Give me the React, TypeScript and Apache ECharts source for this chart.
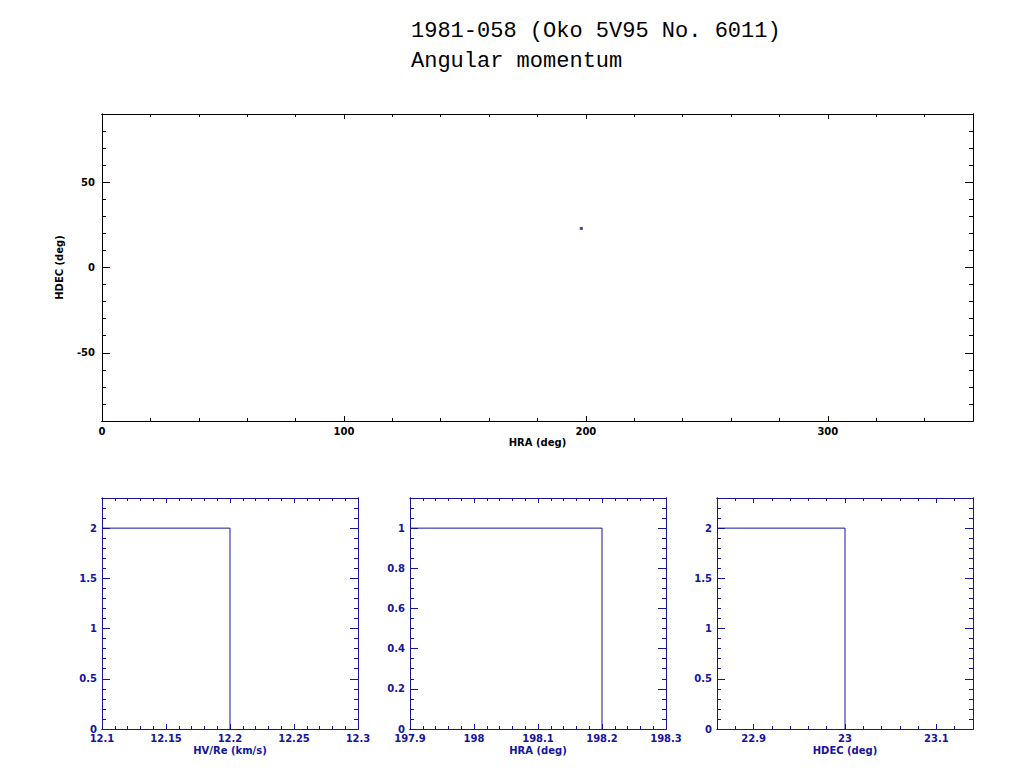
import React, { useEffect, useRef } from "react";
import * as echarts from "echarts";

// ---------- data ----------
const TITLE_LINE_1 = "1981-058 (Oko 5V95 No. 6011)";
const TITLE_LINE_2 = "Angular momentum";

// sky position (HRA, HDEC) of the angular momentum vector
const skyPoints: number[][] = [[198.1, 22.9]];
const skyXTicks = [0, 100, 200, 300];
const skyYTicks = [-50, 0, 50];

// histogram of HV/Re
const hvEdges = [12.1, 12.2];
const hvCounts = [2];
const hvXTicks = [12.1, 12.15, 12.2, 12.25, 12.3];
const hvYTicks = [0, 0.5, 1, 1.5, 2];

// histogram of HRA
const hraEdges = [197.9, 198.2];
const hraCounts = [1];
const hraXTicks = [197.9, 198, 198.1, 198.2, 198.3];
const hraYTicks = [0, 0.2, 0.4, 0.6, 0.8, 1];

// histogram of HDEC
const decEdges = [22.86, 23.0];
const decCounts = [2];
const decXTicks = [22.9, 23, 23.1];
const decYTicks = [0, 0.5, 1, 1.5, 2];

// ---------- helpers ----------
const BLUE = "#14149c";
const BLACK = "#000000";
const FONT = "DejaVu Sans";

function minorValues(min: number, max: number, step: number): number[] {
  const out: number[] = [];
  const n0 = Math.ceil(min / step - 1e-9);
  const n1 = Math.floor(max / step + 1e-9);
  for (let k = n0; k <= n1; k++) out.push(+(k * step).toFixed(6));
  return out;
}

function stepOutline(edges: number[], counts: number[]): number[][] {
  const pts: number[][] = [];
  for (let i = 0; i < counts.length; i++) {
    pts.push([edges[i], counts[i]]);
    pts.push([edges[i + 1], counts[i]]);
  }
  pts.push([edges[edges.length - 1], 0]);
  return pts;
}

function axis(
  gridIndex: number,
  position: string,
  min: number,
  max: number,
  ticks: number[],
  tickLen: number,
  color: string,
  label?: { values: number[]; margin: number; lineHeight: number },
  name?: { text: string; gap: number; rotate?: number }
) {
  const a: any = {
    type: "value",
    gridIndex,
    position,
    min,
    max,
    axisLine: { show: true, onZero: false, lineStyle: { color, width: 1 } },
    axisTick: {
      show: true,
      inside: true,
      length: tickLen,
      customValues: ticks,
      lineStyle: { color, width: 1 },
    },
    axisLabel: label
      ? {
          show: true,
          customValues: label.values,
          formatter: (v: number) => String(+v.toFixed(6)),
          color,
          fontSize: 10,
          lineHeight: label.lineHeight,
          fontWeight: "bold",
          fontFamily: FONT,
          margin: label.margin,
          showMinLabel: true,
          showMaxLabel: true,
          hideOverlap: false,
        }
      : { show: false },
    splitLine: { show: false },
    minorTick: { show: false },
  };
  if (name) {
    a.name = name.text;
    a.nameLocation = "middle";
    a.nameGap = name.gap;
    if (name.rotate !== undefined) a.nameRotate = name.rotate;
    a.nameTextStyle = { color, fontSize: 10, fontWeight: "bold", fontFamily: FONT };
  }
  return a;
}

type Panel = {
  grid: number;
  xr: [number, number];
  yr: [number, number];
  xMajor: number[];
  xMinorStep: number;
  yMajor: number[];
  yMinorStep: number;
  color: string;
  xName: string;
  yName?: string;
  xLabelMargin: number;
  yLabelMargin: number;
  xNameGap: number;
  yNameGap?: number;
  xLen: [number, number];
  yLen: [number, number];
};

function buildPanel(p: Panel) {
  const xMin = minorValues(p.xr[0], p.xr[1], p.xMinorStep);
  const yMin = minorValues(p.yr[0], p.yr[1], p.yMinorStep);
  const xAxes = [
    axis(p.grid, "bottom", p.xr[0], p.xr[1], p.xMajor, p.xLen[0], p.color,
      { values: p.xMajor, margin: p.xLabelMargin, lineHeight: 10 }, { text: p.xName, gap: p.xNameGap }),
    axis(p.grid, "bottom", p.xr[0], p.xr[1], xMin, p.xLen[1], p.color),
    axis(p.grid, "top", p.xr[0], p.xr[1], p.xMajor, p.xLen[0], p.color),
    axis(p.grid, "top", p.xr[0], p.xr[1], xMin, p.xLen[1], p.color),
  ];
  const yAxes = [
    axis(p.grid, "left", p.yr[0], p.yr[1], p.yMajor, p.yLen[0], p.color,
      { values: p.yMajor, margin: p.yLabelMargin, lineHeight: 8 },
      p.yName ? { text: p.yName, gap: p.yNameGap || 40 } : undefined),
    axis(p.grid, "left", p.yr[0], p.yr[1], yMin, p.yLen[1], p.color),
    axis(p.grid, "right", p.yr[0], p.yr[1], p.yMajor, p.yLen[0], p.color),
    axis(p.grid, "right", p.yr[0], p.yr[1], yMin, p.yLen[1], p.color),
  ];
  return { xAxes, yAxes };
}

export default function App() {
  const ref = useRef<HTMLDivElement>(null);

  useEffect(() => {
    if (!ref.current) return;
    const chart = echarts.init(ref.current, undefined, { renderer: "svg" });

    const panels: Panel[] = [
      {
        grid: 0, xr: [0, 360], yr: [-90, 90], xMajor: skyXTicks, xMinorStep: 20,
        yMajor: skyYTicks, yMinorStep: 10, color: BLACK, xName: "HRA (deg)", yName: "HDEC (deg)",
        xLabelMargin: 5, yLabelMargin: 7, xNameGap: 16, yNameGap: 38, xLen: [5, 3], yLen: [8, 4],
      },
      {
        grid: 1, xr: [12.1, 12.3], yr: [0, 2.3], xMajor: hvXTicks, xMinorStep: 0.01,
        yMajor: hvYTicks, yMinorStep: 0.1, color: BLUE, xName: "HV/Re (km/s)",
        xLabelMargin: 4, yLabelMargin: 5, xNameGap: 16, xLen: [5, 3], yLen: [8, 4],
      },
      {
        grid: 2, xr: [197.9, 198.3], yr: [0, 1.15], xMajor: hraXTicks, xMinorStep: 0.02,
        yMajor: hraYTicks, yMinorStep: 0.05, color: BLUE, xName: "HRA (deg)",
        xLabelMargin: 4, yLabelMargin: 5, xNameGap: 16, xLen: [5, 3], yLen: [8, 4],
      },
      {
        grid: 3, xr: [22.86, 23.14], yr: [0, 2.3], xMajor: decXTicks, xMinorStep: 0.02,
        yMajor: decYTicks, yMinorStep: 0.1, color: BLUE, xName: "HDEC (deg)",
        xLabelMargin: 4, yLabelMargin: 5, xNameGap: 16, xLen: [5, 3], yLen: [8, 4],
      },
    ];

    const xAxis: any[] = [];
    const yAxis: any[] = [];
    const primaryX: number[] = [];
    const primaryY: number[] = [];
    panels.forEach((p) => {
      const b = buildPanel(p);
      primaryX.push(xAxis.length);
      primaryY.push(yAxis.length);
      xAxis.push(...b.xAxes);
      yAxis.push(...b.yAxes);
    });

    const titleStyle = { fontFamily: "Liberation Mono", fontSize: 22, fontWeight: "normal", color: "#000" };

    const option: any = {
      animation: false,
      backgroundColor: "#ffffff",
      title: [
        { text: TITLE_LINE_1, left: 406, top: 15, textStyle: titleStyle },
        { text: TITLE_LINE_2, left: 406, top: 45, textStyle: titleStyle },
      ],
      grid: [
        { left: 102, top: 114, width: 871, height: 307 },
        { left: 102, top: 498, width: 256, height: 231 },
        { left: 410, top: 498, width: 256, height: 231 },
        { left: 717, top: 498, width: 256, height: 231 },
      ],
      xAxis,
      yAxis,
      series: [
        {
          type: "scatter",
          xAxisIndex: primaryX[0],
          yAxisIndex: primaryY[0],
          data: skyPoints,
          symbol: "rect",
          symbolSize: 3,
          itemStyle: { color: BLUE },
        },
        {
          type: "line",
          xAxisIndex: primaryX[1],
          yAxisIndex: primaryY[1],
          data: stepOutline(hvEdges, hvCounts),
          showSymbol: false,
          symbol: "none",
          lineStyle: { color: BLUE, width: 1 },
        },
        {
          type: "line",
          xAxisIndex: primaryX[2],
          yAxisIndex: primaryY[2],
          data: stepOutline(hraEdges, hraCounts),
          showSymbol: false,
          symbol: "none",
          lineStyle: { color: BLUE, width: 1 },
        },
        {
          type: "line",
          xAxisIndex: primaryX[3],
          yAxisIndex: primaryY[3],
          data: stepOutline(decEdges, decCounts),
          showSymbol: false,
          symbol: "none",
          lineStyle: { color: BLUE, width: 1 },
        },
      ],
    };

    chart.setOption(option);
    return () => chart.dispose();
  }, []);

  return (
    <div
      ref={ref}
      style={{ position: "fixed", left: 0, top: 0, width: 1024, height: 768, background: "#fff" }}
    />
  );
}
